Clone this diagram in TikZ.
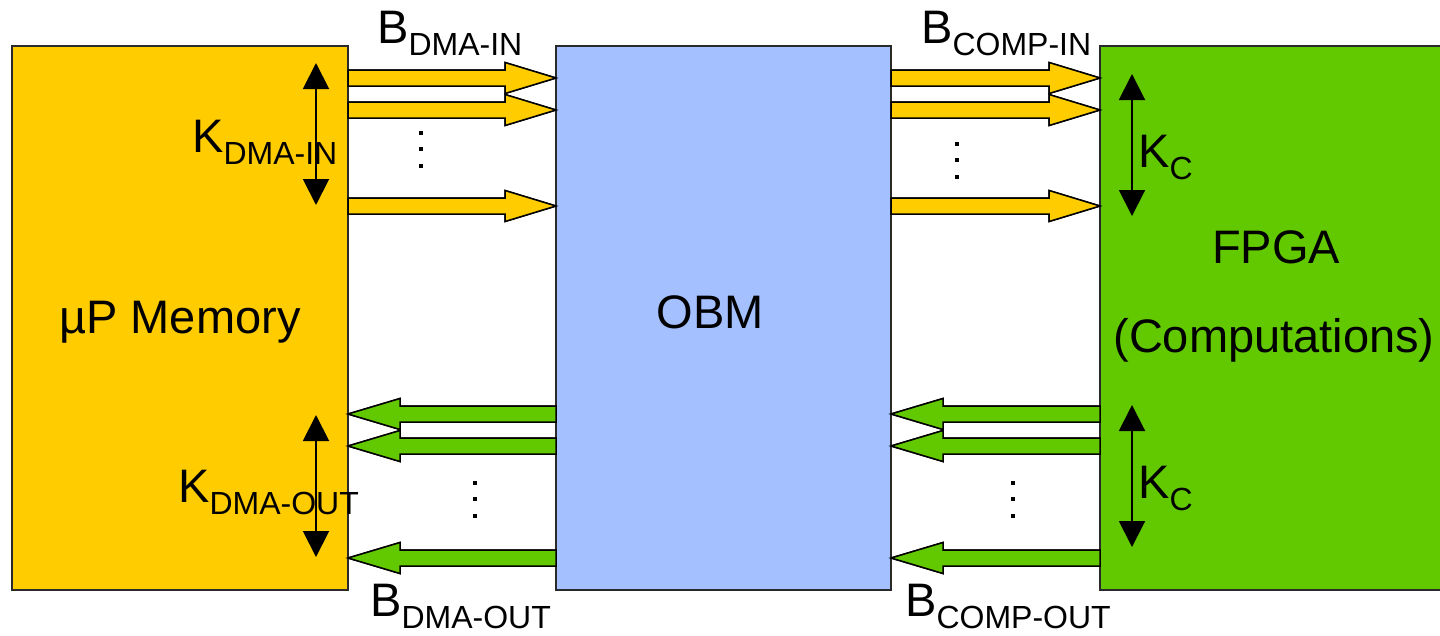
\documentclass[tikz,border=0pt]{standalone}
\usepackage{fontspec}
\setmainfont{Liberation Sans}
\usetikzlibrary{arrows.meta}
\definecolor{memY}{HTML}{FFCC00}
\definecolor{obmB}{HTML}{A4C0FF}
\definecolor{fpgaG}{HTML}{62C800}
\definecolor{bord}{HTML}{2A2A2A}
\newcommand\bigtxt{\fontsize{47}{56}\selectfont}
\newcommand\subtxt[1]{\raisebox{-12pt}{\fontsize{32}{32}\selectfont #1}}
% right-pointing block arrow: tail x, tip x, y, colour
\newcommand\blockR[4]{%
  \draw[blk,fill=#4] (#1,{#3-8}) -- ({#2-51},{#3-8}) -- ({#2-51},{#3-15.5}) -- (#2,#3)
    -- ({#2-51},{#3+15.5}) -- ({#2-51},{#3+8}) -- (#1,{#3+8}) -- cycle;}
% left-pointing block arrow: tail x, tip x, y, colour
\newcommand\blockL[4]{%
  \draw[blk,fill=#4] (#1,{#3-8}) -- ({#2+52},{#3-8}) -- ({#2+52},{#3-15.5}) -- (#2,#3)
    -- ({#2+52},{#3+15.5}) -- ({#2+52},{#3+8}) -- (#1,{#3+8}) -- cycle;}
\newcommand\vdotsat[2]{%
  \fill (#1,#2) ++(-2,-18.5) rectangle ++(4,4);
  \fill (#1,#2) ++(-2,-2) rectangle ++(4,4);
  \fill (#1,#2) ++(-2,14.5) rectangle ++(4,4);}
\begin{document}
\begin{tikzpicture}[x=1pt,y=-1pt,
  box/.style={draw=bord,line width=2pt,minimum height=544pt,inner sep=0pt,outer sep=0pt},
  blk/.style={draw=black,line width=1.5pt,line join=miter},
  dbl/.style={line width=2pt,{Triangle[width=26pt,length=26pt]}-{Triangle[width=26pt,length=26pt]}},
  lbl/.style={anchor=base west,inner sep=0pt,font=\bigtxt},
  ctr/.style={anchor=base,inner sep=0pt,font=\bigtxt}]
\useasboundingbox (0,0) rectangle (1440,635);

% arrows (under the boxes' borders)
\blockR{348}{556}{78}{memY}
\blockR{348}{556}{110}{memY}
\blockR{348}{556}{206}{memY}
\blockR{891}{1100}{78}{memY}
\blockR{891}{1100}{110}{memY}
\blockR{891}{1100}{206}{memY}
\blockL{556}{348}{414}{fpgaG}
\blockL{556}{348}{446}{fpgaG}
\blockL{556}{348}{558}{fpgaG}
\blockL{1100}{891}{414}{fpgaG}
\blockL{1100}{891}{446}{fpgaG}
\blockL{1100}{891}{558}{fpgaG}

% boxes
\node[box,fill=memY,minimum width=336pt] (mem) at (180,318) {};
\node[box,fill=obmB,minimum width=335pt] (obm) at (723.5,318) {};
\node[box,fill=fpgaG,minimum width=370pt] (fpga) at (1285,318) {};

% redraw arrow tails/tips over the box borders
\blockR{348}{556}{78}{memY}
\blockR{348}{556}{110}{memY}
\blockR{348}{556}{206}{memY}
\blockR{891}{1100}{78}{memY}
\blockR{891}{1100}{110}{memY}
\blockR{891}{1100}{206}{memY}
\blockL{556}{348}{414}{fpgaG}
\blockL{556}{348}{446}{fpgaG}
\blockL{556}{348}{558}{fpgaG}
\blockL{1100}{891}{414}{fpgaG}
\blockL{1100}{891}{446}{fpgaG}
\blockL{1100}{891}{558}{fpgaG}

% box texts
\node[ctr] (memtxt) at (180,333) {µP Memory};
\node[ctr] (obmtxt) at (710,328) {OBM};
\node[ctr] (fpgatxt) at (1276,263) {FPGA};
\node[ctr] (comptxt) at (1274,352) {(Computations)};

% dots
\vdotsat{421}{149}
\vdotsat{957}{160}
\vdotsat{475}{499}
\vdotsat{1013}{499}

% double arrows
\coordinate (k1a) at (316,63);  \coordinate (k1b) at (316,205);
\coordinate (k2a) at (316,415); \coordinate (k2b) at (316,557);
\coordinate (k3a) at (1132,74); \coordinate (k3b) at (1132,216);
\coordinate (k4a) at (1132,405); \coordinate (k4b) at (1132,547);
\draw[dbl] (k1a) -- (k1b);
\draw[dbl] (k2a) -- (k2b);
\draw[dbl] (k3a) -- (k3b);
\draw[dbl] (k4a) -- (k4b);

% labels
\node[lbl] (bdin) at (377,43) {B\subtxt{DMA-IN}};
\node[lbl] (bcin) at (921,43) {B\subtxt{COMP-IN}};
\node[lbl] (bdout) at (370,616) {B\subtxt{DMA-OUT}};
\node[lbl] (bcout) at (905,616) {B\subtxt{COMP-OUT}};
\node[lbl] (kdin) at (192,152) {K\subtxt{DMA-IN}};
\node[lbl] (kdout) at (178,502) {K\subtxt{DMA-OUT}};
\node[lbl] (kc1) at (1138,167) {K\subtxt{C}};
\node[lbl] (kc2) at (1138,498) {K\subtxt{C}};
\end{tikzpicture}
\end{document}
